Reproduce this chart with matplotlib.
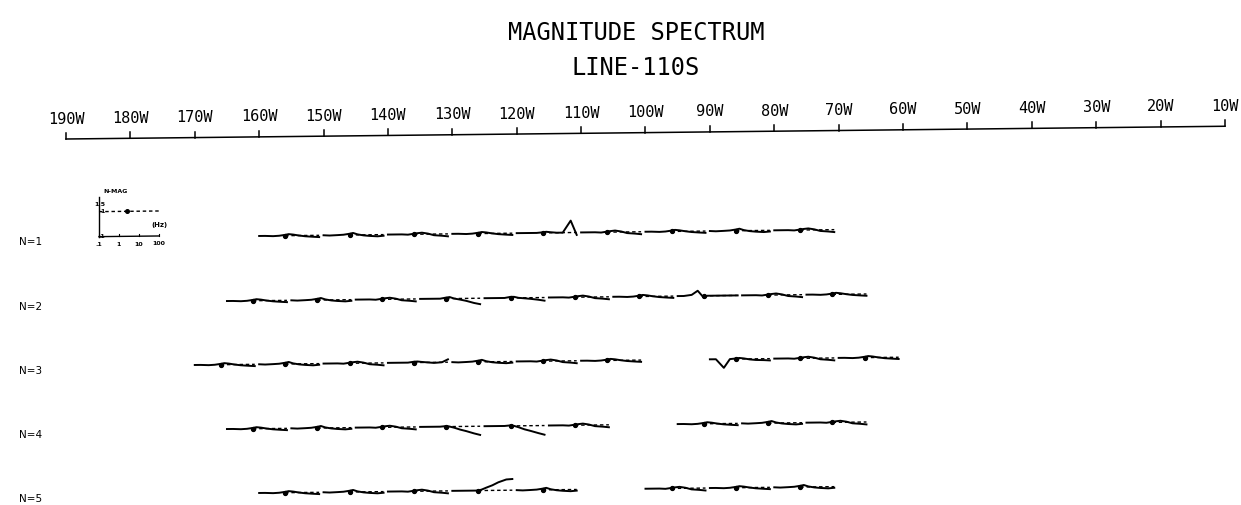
import numpy as np
import matplotlib
matplotlib.use("Agg")
import matplotlib.pyplot as plt
import matplotlib.transforms as mtransforms

# ---- data ----
title_top = "MAGNITUDE SPECTRUM"
title_sub = "LINE-110S"
axis_lons = [190, 180, 170, 160, 150, 140, 130, 120, 110, 100, 90, 80, 70, 60, 50, 40, 30, 20, 10]
row_names = ["N=1", "N=2", "N=3", "N=4", "N=5"]

# station longitudes (deg W) where each small spectrum starts (0.1 Hz end)
row1_lons = [160, 150, 140, 130, 120, 110, 100, 90, 80]
row2_lons = [165, 155, 145, 135, 125, 115, 105, 95, 85, 75]
row3_lons = [170, 160, 150, 140, 130, 120, 110, 90, 80, 70]
row4_lons = [165, 155, 145, 135, 125, 115, 95, 85, 75]
row5_lons = [160, 150, 140, 130, 120, 100, 90, 80]

# frequencies (Hz) of each spectrum and the typical normalised magnitudes
freq_hz = [0.1, 0.2, 0.5, 1, 2, 3, 5, 10, 20, 50, 100]
shape_a = [1.0, 1.0, 0.97, 1.0, 1.08, 1.15, 1.1, 1.0, 0.93, 0.88, 0.85]
shape_b = [1.0, 0.97, 1.0, 1.03, 1.12, 1.2, 1.05, 0.95, 0.9, 0.86, 0.9]
shape_c = [1.0, 1.0, 1.0, 0.97, 1.05, 1.1, 1.15, 1.05, 0.9, 0.85, 0.8]

# stations whose spectra stand out
special = {
    (1, 120): [1.0, 1.0, 1.0, 1.0, 1.05, 1.1, 1.05, 1.0, 1.0, 3.0, 0.8],
    (2, 135): [1.0, 1.0, 1.0, 1.0, 1.1, 1.15, 1.0, 0.9, 0.8, 0.65, 0.58],
    (2, 125): [1.0, 1.0, 1.0, 1.0, 1.1, 1.1, 1.0, 0.95, 0.9, 0.82, 0.75],
    (2, 95): [1.0, 1.0, 1.1, 1.6, 0.85, 1.0, 1.0, 1.0, 1.0, 1.0, 1.0],
    (3, 140): [1.0, 1.0, 1.0, 1.0, 1.08, 1.1, 1.05, 1.0, 0.95, 1.0, 1.3],
    (3, 90): [1.0, 1.0, 0.45, 1.0, 1.05, 1.1, 1.05, 0.95, 0.9, 0.88, 0.85],
    (4, 135): [1.0, 1.0, 1.0, 1.0, 1.05, 1.0, 0.9, 0.75, 0.65, 0.52, 0.45],
    (4, 125): [1.0, 1.0, 1.0, 1.0, 1.05, 1.0, 0.88, 0.72, 0.62, 0.5, 0.43],
    (5, 130): [1.0, 1.0, 1.0, 1.0, 1.0, 1.1, 1.3, 1.6, 2.1, 2.7, 2.8],
}

rows = [row1_lons, row2_lons, row3_lons, row4_lons, row5_lons]

# legend inset tick labels
key_xticks = [0.1, 1, 10, 100]
key_xlabels = [".1", "1", "10", "100"]
key_yticks = [0.1, 1, 1.5]
key_ylabels = [".1", "1", "1.5"]

# ---- layout ----
W, H = 1241, 505
PX_DEG = 6.44          # pixels per degree of longitude
PX_DEC = 25.0          # pixels per magnitude decade
DEG_DEC = 20.0 / PX_DEG  # degrees of map per frequency decade
x0 = 66                # pixel of 190W

fig = plt.figure(figsize=(W / 100, H / 100), dpi=100)
ax = fig.add_axes([0, 0, 1, 1])
ax.set_xlim(190 + x0 / PX_DEG, 10 - (W - 1225) / PX_DEG)
ax.set_ylim(H / PX_DEC, 0)
ax.axis("off")

# the scanned page is slightly tilted: shear everything in display space
s = 0.011
tilt = mtransforms.Affine2D.from_values(1, s, 0, 1, 0, -s * x0)
tr = ax.transData + tilt

mono = "DejaVu Sans Mono"

# top longitude axis
axis_y = 139 / PX_DEC
tick_len = 6 / PX_DEC
ax.plot([axis_lons[0], axis_lons[-1]], [axis_y, axis_y], color="black", lw=1.1, transform=tr)
for lon in axis_lons:
    ax.plot([lon, lon], [axis_y, axis_y - tick_len], color="black", lw=1.1, transform=tr)
    ax.text(lon, axis_y - 20 / PX_DEC, f"{lon}W", ha="center", va="center",
            family=mono, fontsize=11, transform=tr)

# titles
fig.text(636 / W, 1 - 33 / H, title_top, ha="center", va="center", family=mono, fontsize=17)
fig.text(636 / W, 1 - 68 / H, title_sub, ha="center", va="center", family=mono, fontsize=17)

# rows of small spectra
row_y = np.array([238.1, 302.8, 366.4, 430.8, 495.1]) / PX_DEC
logf = np.log10(freq_hz) + 1
shapes = [shape_a, shape_b, shape_c]
marker_f = 2.0
for r, lons in enumerate(rows):
    y0 = row_y[r]
    ax.text(190 + (x0 - 31) / PX_DEG, y0 + 4 / PX_DEC, row_names[r], ha="center", va="center",
            family="DejaVu Sans", fontsize=7.5, transform=tr)
    for k, lon in enumerate(lons):
        mags = special.get((r + 1, lon), shapes[k % 3])
        xs = lon - logf * DEG_DEC
        ys = y0 - np.log10(mags)
        # reference level (magnitude 1) dashed, from the marker to 100 Hz
        xm = lon - (np.log10(marker_f) + 1) * DEG_DEC
        ax.plot([xm, lon - 3 * DEG_DEC], [y0, y0], color="black", lw=1.0,
                ls=(0, (2.5, 2)), transform=tr)
        ax.plot(xs, ys, color="black", lw=1.4, transform=tr)
        ax.plot([xm], [y0], "o", color="black", ms=2.8, transform=tr)

# legend key (small axes drawn top-left)
key_lon = 190 - (99 - x0) / PX_DEG
key_y1 = 212 / PX_DEC
key_x = lambda f: key_lon - (np.log10(f) + 1) * DEG_DEC
key_y = lambda m: key_y1 - np.log10(m)
ax.plot([key_x(0.1), key_x(0.1)], [key_y(0.1), key_y(4.0)], color="black", lw=1.0, transform=tr)
ax.plot([key_x(0.1), key_x(100)], [key_y(0.1), key_y(0.1)], color="black", lw=1.0, transform=tr)
ax.plot([key_x(0.1), key_x(100)], [key_y(1), key_y(1)], color="black", lw=1.0,
        ls=(0, (2.5, 2)), transform=tr)
ax.plot([key_x(2.5)], [key_y(1)], "o", color="black", ms=2.6, transform=tr)
for f, lab in zip(key_xticks, key_xlabels):
    ax.plot([key_x(f), key_x(f)], [key_y(0.1), key_y(0.1) - 2 / PX_DEC], color="black", lw=0.8, transform=tr)
    ax.text(key_x(f), key_y(0.1) + 8 / PX_DEC, lab, ha="center", va="center",
            family="DejaVu Sans", fontsize=4.5, fontweight="bold", transform=tr)
for m, lab in zip(key_yticks, key_ylabels):
    ax.text(key_x(0.1) - 6 / PX_DEG, key_y(m) - (3 / PX_DEC if m == 1.5 else 0), lab,
            ha="right", va="center", family="DejaVu Sans", fontsize=4.5, fontweight="bold", transform=tr)
ax.text(key_x(0.1) - 4 / PX_DEG, key_y(4.0) - 5 / PX_DEC, "N-MAG", ha="left", va="center",
        family="DejaVu Sans", fontsize=4.5, fontweight="bold", transform=tr)
ax.text(key_x(100), key_y(0.1) - 11 / PX_DEC, "(Hz)", ha="center", va="center",
        family="DejaVu Sans", fontsize=5, fontweight="bold", transform=tr)

fig.savefig("out.png", dpi=100)
